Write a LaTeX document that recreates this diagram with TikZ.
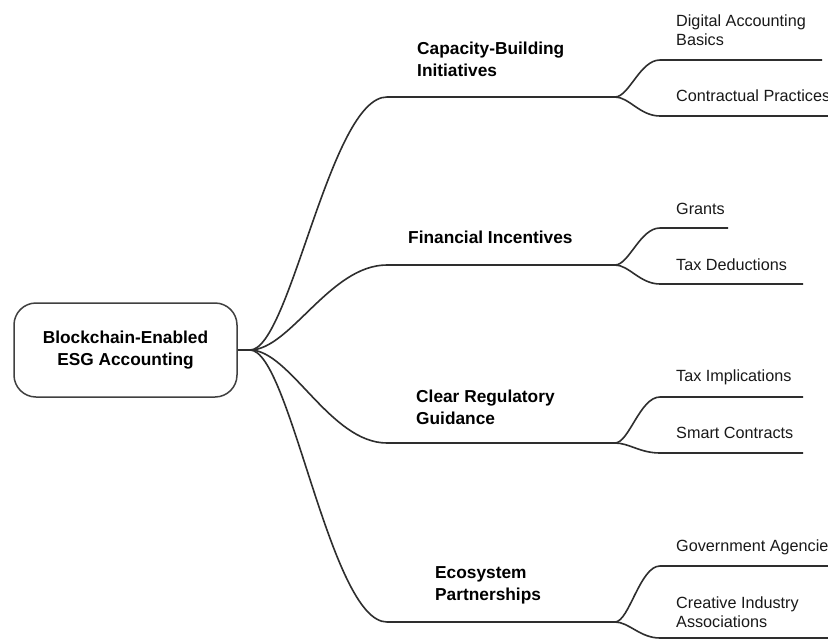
\documentclass[tikz,border=0pt]{standalone}
\usepackage{fontspec}
\setmainfont{Liberation Sans}
\begin{document}
\begin{tikzpicture}[x=1pt,y=-1pt,
  conn/.style={draw=black!82, line width=1.6pt},
  topic/.style={font=\bfseries\fontsize{17.3}{22}\selectfont, text=black, anchor=west, align=left, inner sep=0pt},
  leaf/.style={font=\fontsize{16.2}{19.5}\selectfont, text=black!90, anchor=west, align=left, inner sep=0pt},
  rootbox/.style={draw=black!75, line width=1.5pt, rounded corners=22pt, minimum width=223pt, minimum height=94pt,
    align=center, inner sep=0pt, text=black, font=\bfseries\fontsize{17.3}{22}\selectfont}]
\clip (0,0) rectangle (828,640);
\fill[white] (0,0) rectangle (828,640);

% central node
\node[rootbox] (root) at (125.5,350) {Blockchain-Enabled\\ESG Accounting};
\coordinate (hub) at (250,350);
\draw[conn] (root.east) -- (hub);

% main branches: start of the horizontal stroke and the fork point
\coordinate (a1) at (387,97);   \coordinate (j1) at (615,97);
\coordinate (a2) at (387,265);  \coordinate (j2) at (615,265);
\coordinate (a3) at (387,443);  \coordinate (j3) at (615,443);
\coordinate (a4) at (387,622);  \coordinate (j4) at (615,622);

\foreach \i in {1,2,3,4}
  \draw[conn] (hub) .. controls +(40,0) and +(-57,0) .. (a\i) -- (j\i);

\node[topic] (t1) at (417,59.5) {Capacity-Building\\Initiatives};
\node[topic] (t2) at (408,237)  {Financial Incentives};
\node[topic] (t3) at (416,407)  {Clear Regulatory\\Guidance};
\node[topic] (t4) at (435,585)  {Ecosystem\\Partnerships};

% sub-branches
\coordinate (l11) at (660,60);  \coordinate (e11) at (822,60);
\coordinate (l12) at (660,116); \coordinate (e12) at (832,116);
\coordinate (l21) at (660,228); \coordinate (e21) at (728,228);
\coordinate (l22) at (660,284); \coordinate (e22) at (803,284);
\coordinate (l31) at (660,397); \coordinate (e31) at (803,397);
\coordinate (l32) at (660,453); \coordinate (e32) at (803,453);
\coordinate (l41) at (660,566); \coordinate (e41) at (832,566);
\coordinate (l42) at (660,638); \coordinate (e42) at (832,638);

\foreach \i in {1,2,3,4}
  \foreach \k in {1,2}
    \draw[conn] (j\i) .. controls +(14,0) and +(-20,0) .. (l\i\k) -- (e\i\k);

\node[leaf] (s11) at (676,30)  {Digital Accounting\\Basics};
\node[leaf] (s12) at (676,96)  {Contractual Practices};
\node[leaf] (s21) at (676,209) {Grants};
\node[leaf] (s22) at (676,265) {Tax Deductions};
\node[leaf] (s31) at (676,377) {Tax Implications};
\node[leaf] (s32) at (676,433) {Smart Contracts};
\node[leaf] (s41) at (676,547) {Government Agencies};
\node[leaf] (s42) at (676,612) {Creative Industry\\Associations};
\end{tikzpicture}
\end{document}
